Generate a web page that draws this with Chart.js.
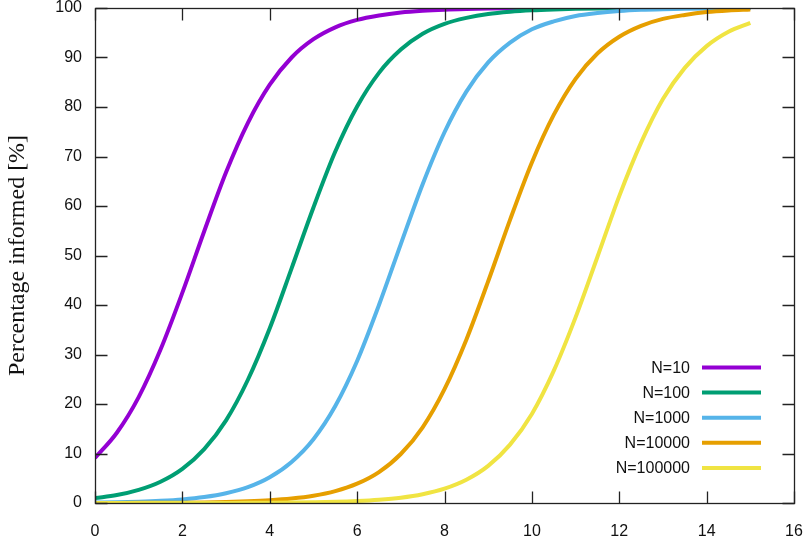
<!DOCTYPE html>
<html>
<head>
<meta charset="utf-8">
<script src="https://cdn.jsdelivr.net/npm/chart.js@4/dist/chart.umd.min.js"></script>
<style>
  html, body { margin: 0; padding: 0; background: #fff; }
  #wrap { width: 808px; height: 539px; }
</style>
</head>
<body>
<div id="wrap"><canvas id="chart" width="808" height="539"></canvas></div>
<script>
        // data (time on x, percentage on y)
        const timeSteps = [0, 0.5, 1, 1.5, 2, 2.5, 3, 3.5, 4, 4.5, 5, 5.5, 6, 6.5, 7, 7.5,
            8, 8.5, 9, 9.5, 10, 10.5, 11, 11.5, 12, 12.5, 13, 13.5, 14, 14.5, 15];
        const seriesLabels = ['N=10', 'N=100', 'N=1000', 'N=10000', 'N=100000'];
        const seriesColors = ['#9400d3', '#009e73', '#56b4e9', '#e69f00', '#f0e442'];
        const n10 = [9.1, 14.2, 21.4, 31.0, 42.5, 54.9, 66.8, 76.8, 84.5, 90.0, 93.7, 96.1, 97.6, 98.5, 99.1, 99.45,
            99.67, 99.8, 99.88, 99.93, 99.95, 99.97, 99.98, 99.99, 99.99, 100, 100, 100, 100, 100, 100];
        const n100 = [1.0, 1.6, 2.65, 4.3, 6.9, 10.9, 16.7, 24.9, 35.3, 47.4, 59.7, 71.0, 80.1, 86.9, 91.6, 94.8,
            96.8, 98.0, 98.8, 99.26, 99.55, 99.72, 99.83, 99.9, 99.94, 99.96, 99.98, 99.99, 99.99, 99.99, 100];
        const n1000 = [0.1, 0.16, 0.27, 0.45, 0.73, 1.2, 1.97, 3.2, 5.2, 8.3, 12.9, 19.6, 28.7, 40.0, 52.3, 64.4,
            74.9, 83.1, 89.0, 93.0, 95.7, 97.3, 98.4, 99.0, 99.39, 99.63, 99.77, 99.86, 99.92, 99.95, 99.97];
        const n10000 = [0.01, 0.016, 0.027, 0.045, 0.074, 0.12, 0.2, 0.33, 0.54, 0.89, 1.46, 2.4, 3.9, 6.25, 9.9, 15.3,
            23.0, 33.0, 44.8, 57.2, 68.8, 78.4, 85.7, 90.8, 94.2, 96.4, 97.8, 98.6, 99.17, 99.5, 99.69];
        const n100000 = [0.001, 0.002, 0.003, 0.004, 0.007, 0.012, 0.02, 0.03, 0.05, 0.09, 0.15, 0.24, 0.4, 0.66, 1.08, 1.78,
            2.9, 4.7, 7.5, 11.8, 18.0, 26.7, 37.5, 49.7, 62.0, 72.8, 81.6, 87.9, 92.3, 95.2, 97.0];
        const allSeries = [n10, n100, n1000, n10000, n100000];
        const xTicks = [0, 2, 4, 6, 8, 10, 12, 14, 16];
        const yTicks = [0, 10, 20, 30, 40, 50, 60, 70, 80, 90, 100];

        const datasets = allSeries.map((vals, i) => ({
            label: seriesLabels[i],
            data: vals.map((v, j) => ({ x: timeSteps[j], y: v })),
            borderColor: seriesColors[i],
            backgroundColor: seriesColors[i],
            borderWidth: 4,
            pointRadius: 0,
            cubicInterpolationMode: 'monotone',
            fill: false,
            order: -i
        }));

        // gnuplot-like frame, inward ticks and legend inside the plot
        const framePlugin = {
            id: 'frame',
            afterDatasetsDraw(chart) {
                const ctx = chart.ctx;
                const a = chart.chartArea;
                const xs = chart.scales.x, ys = chart.scales.y;
                const L = Math.round(a.left) + 0.5, R = Math.round(a.right) + 0.5;
                const T = Math.round(a.top) + 0.5, B = Math.round(a.bottom) + 0.5;
                ctx.save();
                ctx.strokeStyle = '#222';
                ctx.lineWidth = 1.3;
                ctx.beginPath();
                xTicks.forEach(t => {
                    const px = Math.round(xs.getPixelForValue(t)) + 0.5;
                    ctx.moveTo(px, B); ctx.lineTo(px, B - 12);
                    ctx.moveTo(px, T); ctx.lineTo(px, T + 12);
                });
                yTicks.forEach(t => {
                    const py = Math.round(ys.getPixelForValue(t)) + 0.5;
                    ctx.moveTo(L, py); ctx.lineTo(L + 12, py);
                    ctx.moveTo(R, py); ctx.lineTo(R - 12, py);
                });
                ctx.stroke();
                ctx.strokeRect(L, T, R - L, B - T);

                // legend
                ctx.font = '16px "Liberation Sans", Arial, sans-serif';
                ctx.textAlign = 'right';
                ctx.textBaseline = 'middle';
                chart.data.datasets.forEach((ds, i) => {
                    const y = 367.5 + i * 25.1;
                    ctx.fillStyle = '#111';
                    ctx.fillText(ds.label, 690, y + 1);
                    ctx.strokeStyle = ds.borderColor;
                    ctx.lineWidth = 4;
                    ctx.beginPath();
                    ctx.moveTo(702, y);
                    ctx.lineTo(761, y);
                    ctx.stroke();
                });
                ctx.restore();
            }
        };

        const tickFont = { family: '"Liberation Sans", Arial, sans-serif', size: 16 };

        new Chart(document.getElementById('chart'), {
            type: 'line',
            data: { datasets },
            options: {
                responsive: false,
                animation: false,
                layout: { autoPadding: false, padding: { top: 8, right: 14, left: 0, bottom: 0 } },
                plugins: { legend: { display: false }, tooltip: { enabled: false } },
                scales: {
                    x: {
                        type: 'linear',
                        min: 0, max: 16,
                        grid: { display: false, drawTicks: false },
                        border: { display: false },
                        afterFit: s => { s.height = 36; s.paddingLeft = 0; s.paddingRight = 0; },
                        afterBuildTicks: s => { s.ticks = xTicks.map(v => ({ value: v })); },
                        ticks: { color: '#111', font: tickFont, padding: 19, maxRotation: 0 }
                    },
                    y: {
                        min: 0, max: 100,
                        grid: { display: false, drawTicks: false },
                        border: { display: false },
                        afterFit: s => { s.width = 95; s.paddingTop = 0; s.paddingBottom = 0; },
                        afterBuildTicks: s => { s.ticks = yTicks.map(v => ({ value: v })); },
                        ticks: { color: '#111', font: tickFont, padding: 13 },
                        title: {
                            display: true,
                            text: 'Percentage informed [%]',
                            color: '#111',
                            font: { family: '"Liberation Serif", "Times New Roman", serif', size: 24 },
                            padding: { top: 3, bottom: 0 }
                        }
                    }
                }
            },
            plugins: [framePlugin]
        });
</script>
</body>
</html>
